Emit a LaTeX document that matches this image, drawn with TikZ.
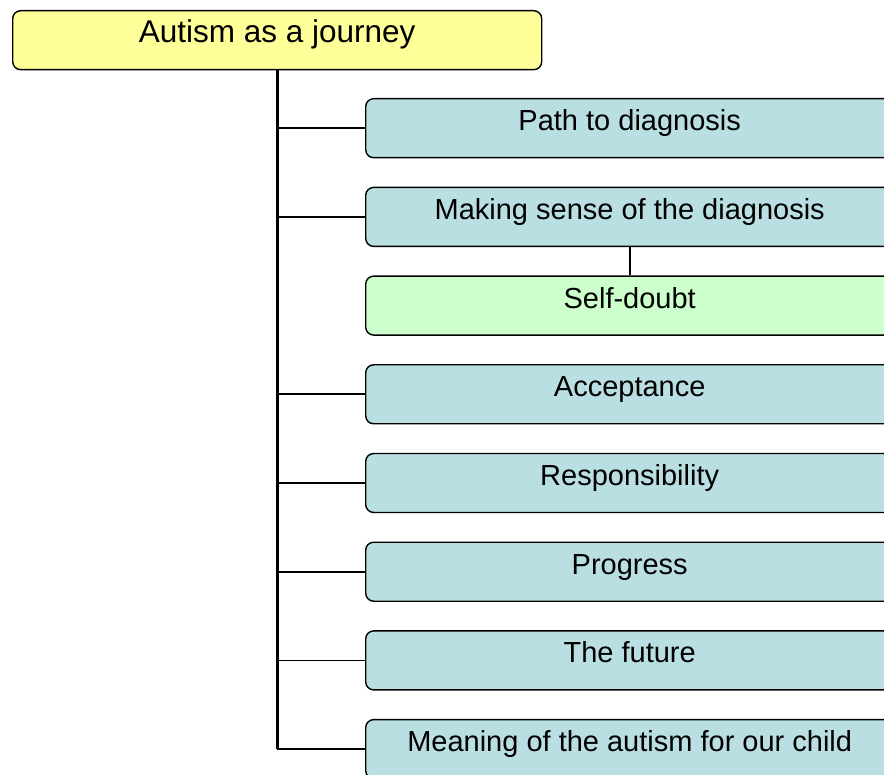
\documentclass[tikz,border=0pt]{standalone}
\usepackage{fontspec}
\setmainfont{Liberation Sans}
\definecolor{rootfill}{RGB}{255,255,153}
\definecolor{childfill}{RGB}{185,223,227}
\definecolor{subfill}{RGB}{204,255,204}
\begin{document}
\begin{tikzpicture}[x=1pt,y=-1pt,
  basebox/.style={draw=black, line width=1.4pt, rounded corners=8pt, inner xsep=0pt, inner ysep=0pt,
    text height=32pt, text depth=27pt, anchor=north west},
  rootbox/.style={basebox, fill=rootfill, minimum width=529pt, font=\fontsize{31.5}{34}\selectfont},
  childbox/.style={basebox, fill=childfill, minimum width=528pt, font=\fontsize{29}{32}\selectfont},
  subbox/.style={basebox, fill=subfill, minimum width=528pt, font=\fontsize{29}{32}\selectfont},
  trunk/.style={line width=2.6pt},
  branch/.style={line width=1.8pt}]
\useasboundingbox (0,0) rectangle (884,775);
\node[rootbox] (root) at (12,10) {Autism as a journey};
\node[childbox] (c1) at (365,98) {Path to diagnosis};
\node[childbox] (c2) at (365,186.7) {Making sense of the diagnosis};
\node[subbox] (s1) at (365,275.4) {Self-doubt};
\node[childbox] (c3) at (365,364.1) {Acceptance};
\node[childbox] (c4) at (365,452.8) {Responsibility};
\node[childbox] (c5) at (365,541.5) {Progress};
\node[childbox] (c6) at (365,630.2) {The future};
\node[childbox] (c7) at (365,718.9) {Meaning of the autism for our child};
\coordinate (tb) at (276,748.4);
\draw[trunk] (root.south) -- (root.south |- c7.west);
\foreach \c in {c1,c2,c3,c4,c5,c6,c7}{
  \draw[branch] (root.south |- \c.west) -- (\c.west);
}
\draw[branch] (c2.south) -- (s1.north);
\end{tikzpicture}
\end{document}
